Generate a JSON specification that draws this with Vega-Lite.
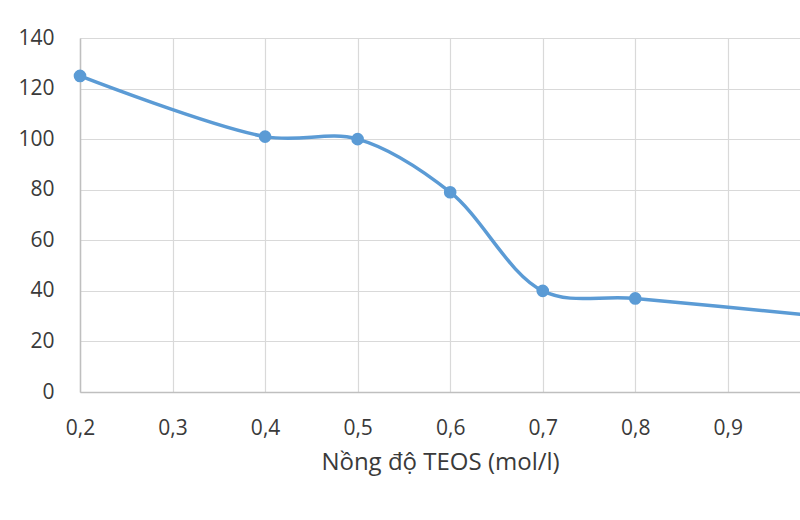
{
  "$schema": "https://vega.github.io/schema/vega-lite/v6.json",
  "width": 720,
  "height": 354,
  "autosize": {"type": "none"},
  "padding": {"left": 80, "top": 38, "right": 0, "bottom": 128},
  "background": "white",
  "config": {
    "view": {"stroke": null},
    "font": "Open Sans",
    "axis": {
      "gridColor": "#d9d9d9",
      "gridWidth": 1.2,
      "domainColor": "#bfbfbf",
      "domainWidth": 1.5,
      "ticks": false,
      "labelColor": "#3a3a3a",
      "labelFontSize": 21,
      "labelFontWeight": 500,
      "titleColor": "#3a3a3a",
      "titleFontSize": 24,
      "titleFontWeight": 500
    }
  },
  "data": {
    "values": [
      {"c": 0.2, "v": 125},
      {"c": 0.4, "v": 101},
      {"c": 0.5, "v": 100},
      {"c": 0.6, "v": 79},
      {"c": 0.7, "v": 40},
      {"c": 0.8, "v": 37},
      {"c": 1.0, "v": 30}
    ]
  },
  "encoding": {
    "x": {
      "field": "c",
      "type": "quantitative",
      "scale": {"domain": [0.2, 0.978], "nice": false, "zero": false},
      "axis": {
        "values": [0.2, 0.3, 0.4, 0.5, 0.6, 0.7, 0.8, 0.9],
        "labelExpr": "replace(format(datum.value, '.1f'), '.', ',')",
        "labelFlush": false,
        "labelPadding": 25,
        "title": "Nồng độ TEOS (mol/l)",
        "titlePadding": 12
      }
    },
    "y": {
      "field": "v",
      "type": "quantitative",
      "scale": {"domain": [0, 140], "nice": false},
      "axis": {
        "values": [0, 20, 40, 60, 80, 100, 120, 140],
        "labelFlush": false,
        "labelPadding": 26,
        "title": null
      }
    }
  },
  "layer": [
    {
      "mark": {"type": "line", "interpolate": "catmull-rom", "color": "#5b9bd5", "strokeWidth": 3.5, "clip": false}
    },
    {
      "mark": {"type": "point", "filled": true, "opacity": 1, "color": "#5b9bd5", "size": 160, "clip": false}
    }
  ]
}
